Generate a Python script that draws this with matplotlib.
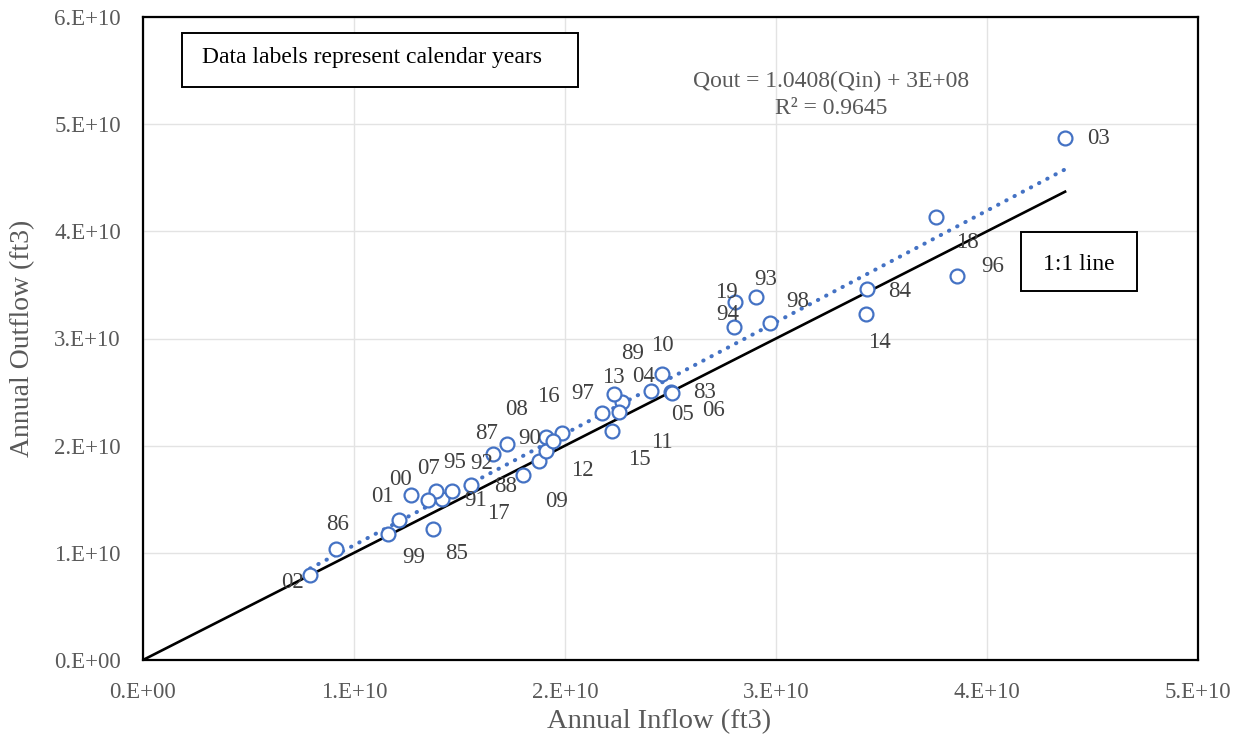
import matplotlib
matplotlib.use("Agg")
import matplotlib.pyplot as plt
from matplotlib.patches import Rectangle
from matplotlib.ticker import MultipleLocator, FuncFormatter

plt.rcParams["font.family"] = ["Liberation Serif", "DejaVu Serif"]

# Annual reservoir water balance, 1983-2019 (ft3)
years = ["83", "84", "85", "86", "87", "88", "89", "90", "91", "92",
         "93", "94", "95", "96", "97", "98", "99", "00", "01", "02",
         "03", "04", "05", "06", "07", "08", "09", "10", "11", "12",
         "13", "14", "15", "16", "17", "18", "19"]
inflow = [2.502e10, 3.431e10, 1.374e10, 0.915e10, 1.659e10, 1.555e10, 2.270e10, 1.910e10, 1.417e10, 1.465e10,
          2.905e10, 2.801e10, 1.389e10, 3.858e10, 1.986e10, 2.972e10, 1.161e10, 1.270e10, 1.213e10, 0.792e10,
          4.370e10, 2.408e10, 2.256e10, 2.507e10, 1.351e10, 1.725e10, 1.877e10, 2.460e10, 2.175e10, 1.910e10,
          2.232e10, 3.427e10, 2.223e10, 1.943e10, 1.801e10, 3.758e10, 2.806e10]
outflow = [2.501e10, 3.462e10, 1.222e10, 1.036e10, 1.922e10, 1.633e10, 2.407e10, 2.081e10, 1.502e10, 1.577e10,
           3.387e10, 3.107e10, 1.577e10, 3.583e10, 2.118e10, 3.145e10, 1.176e10, 1.540e10, 1.306e10, 0.793e10,
           4.871e10, 2.510e10, 2.314e10, 2.495e10, 1.493e10, 2.016e10, 1.857e10, 2.669e10, 2.305e10, 1.950e10,
           2.482e10, 3.229e10, 2.137e10, 2.044e10, 1.726e10, 4.134e10, 3.341e10]

# Linear fit reported for the series
slope = 1.0408
intercept = 3e8
r_squared = 0.9645

# Where each year label sits relative to its marker (pixels, +y = down)
label_shift = {
    "83": (34, 1), "84": (33, 3), "85": (24, 24), "86": (1, -24), "87": (-6, -21),
    "88": (35, 2), "89": (11, -49), "90": (-16, 2), "91": (34, 1), "92": (30, -27),
    "93": (10, -18), "94": (-6, -13), "95": (19, -28), "96": (36, -10), "97": (21, -40),
    "98": (28, -21), "99": (26, 24), "00": (-10, -15), "01": (-17, -24), "02": (-18, 7),
    "03": (33, 1), "04": (-8, -15), "05": (63, 2), "06": (42, 18), "07": (0, -32),
    "08": (10, -34), "09": (18, 41), "10": (0, -28), "11": (60, 30), "12": (36, 19),
    "13": (-1, -17), "14": (13, 29), "15": (27, 29), "16": (-5, -44), "17": (-25, 38),
    "18": (31, 26), "19": (-9, -9),
}

BLUE = "#4472C4"
GREY = "#595959"

fig = plt.figure(figsize=(12.42, 7.40), dpi=100)
ax = fig.add_axes([143 / 1242, 80 / 740, 1055 / 1242, 643 / 740])

ax.set_xlim(0, 5e10)
ax.set_ylim(0, 6e10)
ax.xaxis.set_major_locator(MultipleLocator(1e10))
ax.yaxis.set_major_locator(MultipleLocator(1e10))
sci = FuncFormatter(lambda v, _: "{:#.0E}".format(v))
ax.xaxis.set_major_formatter(sci)
ax.yaxis.set_major_formatter(sci)
ax.tick_params(length=0, labelsize=16.5, labelcolor=GREY)
ax.tick_params(axis="x", pad=16)
ax.tick_params(axis="y", pad=16)
ax.grid(True, color="#e3e3e3", linewidth=1.0)
ax.set_axisbelow(True)
for sp in ax.spines.values():
    sp.set_color("black")
    sp.set_linewidth(1.6)

ax.set_xlabel("Annual Inflow (ft3)", fontsize=20.5, color=GREY)
ax.set_ylabel("Annual Outflow (ft3)", fontsize=20, color=GREY)
ax.xaxis.set_label_coords(0.4896, -0.0765)
ax.yaxis.set_label_coords(-0.102, 0.5)

# 1:1 reference line
xmax = max(inflow)
ax.plot([0, xmax], [0, xmax], color="black", linewidth=1.9, zorder=2)

# fitted trendline
xmin = min(inflow)
ax.plot([xmin, xmax], [slope * xmin + intercept, slope * xmax + intercept],
        color=BLUE, linewidth=2.9, linestyle=(0, (0.1, 2.2)),
        dash_capstyle="round", zorder=3)

ax.scatter(inflow, outflow, s=100, facecolors="white", edgecolors=BLUE,
           linewidths=1.6, zorder=4)

for yr, xv, yv in zip(years, inflow, outflow):
    dx, dy = label_shift[yr]
    ax.annotate(yr, (xv, yv), xytext=(dx * 0.72, -dy * 0.72),
                textcoords="offset points", ha="center", va="center",
                fontsize=16.5, color="#404040", zorder=5)

# equation of the fit
ax.text(831 / 1242, 1 - 81 / 740,
        "Qout = {:.4f}(Qin) + 3E+08".format(slope),
        transform=fig.transFigure, ha="center", va="center",
        fontsize=17, color=GREY)
ax.text(831 / 1242, 1 - 108 / 740,
        "R² = {:.4f}".format(r_squared),
        transform=fig.transFigure, ha="center", va="center",
        fontsize=17, color=GREY)

# note boxes
fig.patches.append(Rectangle((182 / 1242, 1 - 87 / 740), 396 / 1242, 54 / 740,
                             transform=fig.transFigure, fill=True,
                             facecolor="white", edgecolor="black",
                             linewidth=1.4, zorder=6))
fig.text(202 / 1242, 1 - 57 / 740, "Data labels represent calendar years",
         ha="left", va="center", fontsize=17, color="black", zorder=7)

fig.patches.append(Rectangle((1021 / 1242, 1 - 291 / 740), 116 / 1242, 59 / 740,
                             transform=fig.transFigure, fill=True,
                             facecolor="white", edgecolor="black",
                             linewidth=1.4, zorder=6))
fig.text(1079 / 1242, 1 - 264 / 740, "1:1 line",
         ha="center", va="center", fontsize=17, color="black", zorder=7)

fig.savefig("out.png", dpi=100, facecolor="white")
